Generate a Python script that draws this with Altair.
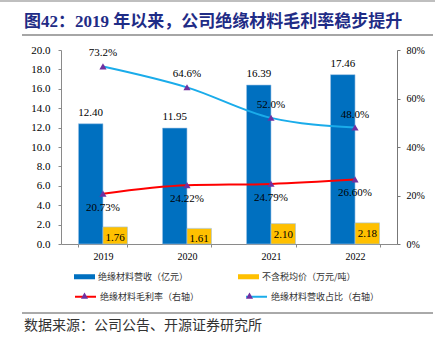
import altair as alt
import pandas as pd

years = ["2019", "2020", "2021", "2022"]
revenue = [12.40, 11.95, 16.39, 17.46]
price = [1.76, 1.61, 2.10, 2.18]
margin = [20.73, 24.22, 24.79, 26.60]
share = [73.2, 64.6, 52.0, 48.0]

bar_names = ["绝缘材料营收（亿元）", "不含税均价（万元/吨）"]
line_names = ["绝缘材料毛利率（右轴）", "绝缘材料营收占比（右轴）"]

title_text = "图42：2019 年以来，公司绝缘材料毛利率稳步提升"
source_text = "数据来源：公司公告、开源证券研究所"

bars_df = pd.DataFrame({
    "year": years * 2,
    "series": [bar_names[0]] * 4 + [bar_names[1]] * 4,
    "value": revenue + price,
})
bars_df["label"] = bars_df["value"].map(lambda v: f"{v:.2f}")

lines_df = pd.DataFrame({
    "year": years * 2,
    "series": [line_names[0]] * 4 + [line_names[1]] * 4,
    "value": [m / 100 for m in margin] + [s / 100 for s in share],
})
lines_df["label"] = [f"{m:.2f}%" for m in margin] + [f"{s:.1f}%" for s in share]
lines_df["marker"] = lines_df["series"]

SERIF = "Liberation Serif"
CJK = "Noto Sans CJK SC"
AX = "#8a8a8a"

x = alt.X("year:N", sort=years,
          scale=alt.Scale(paddingInner=0.417, paddingOuter=0.208),
          axis=alt.Axis(title=None, labelAngle=0, labelFont=SERIF, labelFontSize=10,
                        labelColor="black", domainColor=AX, tickColor=AX,
                        tickBand="extent", tickSize=3, labelPadding=4))
xoff = alt.XOffset("series:N", scale=alt.Scale(domain=bar_names, paddingInner=0))

yl = alt.Y("value:Q", scale=alt.Scale(domain=[0, 20]),
           axis=alt.Axis(title=None, values=[0, 2, 4, 6, 8, 10, 12, 14, 16, 18, 20],
                         format=".1f", grid=False, labelFont=SERIF, labelFontSize=11,
                         labelColor="black", domainColor=AX, tickColor=AX,
                         labelOverlap=False, tickSize=3, labelPadding=8))

bars = alt.Chart(bars_df).mark_bar(strokeWidth=0.6).encode(
    x=x, xOffset=xoff, y=yl,
    fill=alt.Fill("series:N",
                  scale=alt.Scale(domain=bar_names, range=["#0070C0", "#FFC000"]),
                  legend=alt.Legend(title=None, orient="none", legendX=13, legendY=216,
                                    direction="horizontal", columns=2, columnPadding=49,
                                    symbolType="M-1,-0.24H1V0.24H-1Z", symbolSize=441,
                                    symbolStrokeWidth=0, labelFont=CJK, labelFontSize=9,
                                    labelColor="#333", labelOffset=3, padding=0)),
    stroke=alt.value("#9DC3E6"),
)

blue_lbl = alt.Chart(bars_df).transform_filter(
    alt.datum.series == bar_names[0]
).mark_text(dy=-11, font=SERIF, fontSize=11, color="black", baseline="middle").encode(
    x=x, xOffset=xoff, y=yl, text="label:N")

yel_lbl = alt.Chart(bars_df).transform_filter(
    alt.datum.series == bar_names[1]
).mark_text(dy=11, font=SERIF, fontSize=11, color="black", baseline="middle").encode(
    x=x, xOffset=xoff, y=yl, text="label:N")

left = alt.layer(bars, blue_lbl, yel_lbl)

yr = alt.Y("value:Q", scale=alt.Scale(domain=[0, 0.8]),
           axis=alt.Axis(title=None, orient="right", values=[0, 0.2, 0.4, 0.6, 0.8],
                         format=".0%", grid=False, labelFont=SERIF, labelFontSize=10,
                         labelColor="black", domainColor="#777", tickColor="#777",
                         labelOverlap=False, tickSize=3, labelPadding=6))

lines = alt.Chart(lines_df).mark_line(interpolate="monotone", strokeWidth=2).encode(
    x=x, y=yr,
    stroke=alt.Stroke("series:N",
                      scale=alt.Scale(domain=line_names, range=["#FF0000", "#1AACEA"]),
                      legend=alt.Legend(title=None, orient="none", legendX=13, legendY=235,
                                        direction="horizontal", columns=2, columnPadding=42,
                                        symbolType="stroke", symbolSize=441,
                                        symbolStrokeWidth=2, labelFont=CJK, labelFontSize=9,
                                        labelColor="#333", labelOffset=3, padding=0)),
)

tri = "M-0.34,0.28L0,-0.3L0.34,0.28Z"
points = alt.Chart(lines_df).mark_point(filled=True, color="#7030A0", size=441, opacity=1).encode(
    x=x, y=yr,
    shape=alt.Shape("marker:N", scale=alt.Scale(range=[tri, tri]),
                    legend=alt.Legend(title=None, orient="none", legendX=13, legendY=235,
                                      direction="horizontal", columns=2, columnPadding=141,
                                      symbolSize=441, symbolFillColor="#7030A0",
                                      symbolStrokeWidth=0, labelFont=CJK, labelFontSize=9,
                                      labelExpr="''", labelOffset=3, padding=0)),
)

share_lbl = alt.Chart(lines_df).transform_filter(
    alt.datum.series == line_names[1]
).mark_text(dy=-13, font=SERIF, fontSize=11, color="black", baseline="middle").encode(
    x=x, y=yr, text="label:N")

margin_lbl = alt.Chart(lines_df).transform_filter(
    alt.datum.series == line_names[0]
).mark_text(dy=14, font=SERIF, fontSize=11, color="black", baseline="middle").encode(
    x=x, y=yr, text="label:N")

right = alt.layer(lines, points, share_lbl, margin_lbl)

one = alt.Data(values=[{"a": 1}])
top_rule = alt.Chart(one).mark_rule(color="#aaaaaa", strokeWidth=1.5).encode(
    x=alt.value(-61), x2=alt.value(374), y=alt.value(-49))
title_rule = alt.Chart(one).mark_rule(color="#888888", strokeWidth=1.5).encode(
    x=alt.value(-39), x2=alt.value(372), y=alt.value(-15))
bottom_rule = alt.Chart(one).mark_rule(color="#555555", strokeWidth=1).encode(
    x=alt.value(-39), x2=alt.value(372), y=alt.value(263))
title = alt.Chart(one).mark_text(align="left", baseline="middle", font=f"{SERIF}, {CJK}",
                                 fontSize=17, fontWeight="bold", color="#1F2C86").encode(
    x=alt.value(-37), y=alt.value(-28), text=alt.value(title_text))
source = alt.Chart(one).mark_text(align="left", baseline="middle", font=CJK, fontSize=14,
                                  color="#333333").encode(
    x=alt.value(-37), y=alt.value(276), text=alt.value(source_text))

chart = alt.layer(left, right, top_rule, title_rule, bottom_rule, title, source).resolve_scale(
    y="independent"
).properties(
    width=336, height=194,
    autosize=alt.AutoSizeParams(type="none"),
    padding={"left": 61, "top": 50, "right": 51, "bottom": 95},
).configure_view(stroke=None)

chart.save("out.html", embed_options={"renderer": "svg", "actions": False})
